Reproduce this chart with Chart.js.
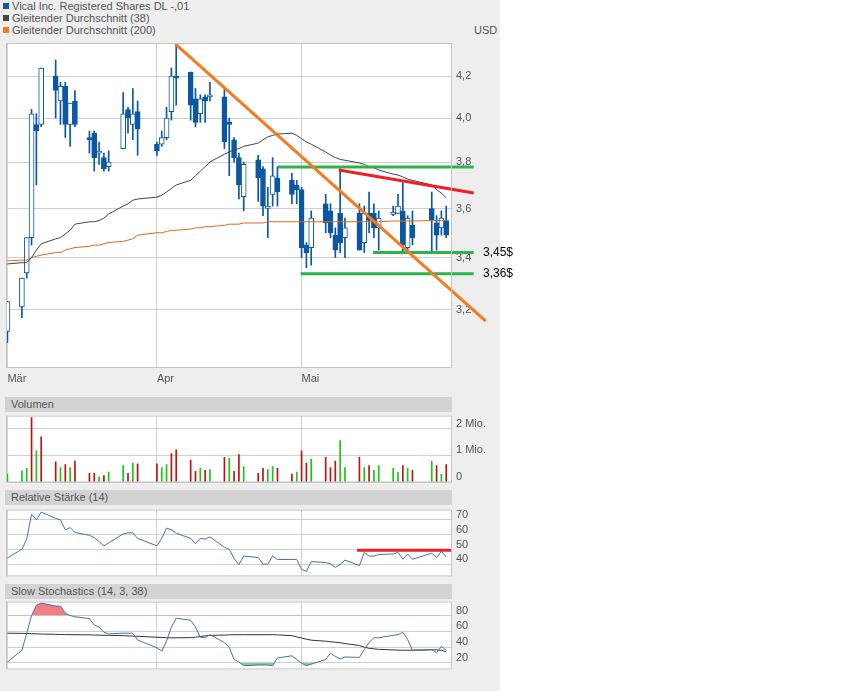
<!DOCTYPE html>
<html><head><meta charset="utf-8">
<script src="https://cdn.jsdelivr.net/npm/chart.js@4"></script>
<style>
body{margin:0;background:#fff;font-family:"Liberation Sans",Arial,sans-serif;}
#wrap{position:absolute;left:0;top:0;width:500px;height:691px;background:#eeeeee;}
canvas{position:absolute;left:0;}
.lbl{position:absolute;font-size:11px;color:#555;white-space:nowrap;}
.hdr{position:absolute;left:5px;width:447px;height:15px;background:#d3d3d3;font-size:11px;color:#555;line-height:15px;text-indent:6px;z-index:2;}
.sq{display:inline-block;width:6px;height:6px;margin:0 3px 1px 3px;}
</style></head><body>
<div id="wrap">
  <div class="lbl" style="left:0;top:0"><span class="sq" style="background:#0b57a4"></span>Vical Inc. Registered Shares DL -,01</div>
  <div class="lbl" style="left:0;top:12px"><span class="sq" style="background:#444"></span>Gleitender Durchschnitt (38)</div>
  <div class="lbl" style="left:0;top:24px"><span class="sq" style="background:#f07a1e"></span>Gleitender Durchschnitt (200)</div>
  <div class="lbl" style="left:474px;top:24px">USD</div>
  <canvas id="main" width="500" height="392" style="top:0;width:500px;height:392px"></canvas>
  <div class="hdr" style="top:397px">Volumen</div>
  <canvas id="vol" width="500" height="88" style="top:405px;width:500px;height:88px"></canvas>
  <div class="hdr" style="top:490px">Relative Stärke (14)</div>
  <canvas id="rsi" width="500" height="88" style="top:499px;width:500px;height:88px"></canvas>
  <div class="hdr" style="top:584px">Slow Stochastics (14, 3, 38)</div>
  <canvas id="sto" width="500" height="89" style="top:591px;width:500px;height:89px"></canvas>
</div>
<div class="lbl" style="left:483px;top:245px;font-size:12px;color:#000;z-index:3">3,45$</div>
<div class="lbl" style="left:483px;top:266px;font-size:12px;color:#000;z-index:3">3,36$</div>
<script>
// calendar day index counted from 1 March
const days = [0,3,4,5,6,7,10,11,12,13,14,17,18,19,20,21,24,25,26,27,
  31,32,33,34,35,38,39,40,41,42,45,46,47,48,49,52,53,54,55,56,59,60,
  61,62,63,66,67,68,69,70,73,74,75,76,77,80,81,82,83,84,88,89,90,91];
const open  = [3.12,3.21,3.34,3.48,3.97,3.97,4.20,4.08,4.15,3.97,4.08,3.91,3.93,3.84,3.82,3.78,3.86,4.04,3.97,4.03,
  3.88,3.88,3.91,4.03,4.20,4.22,4.09,4.02,4.10,4.10,4.10,3.98,3.90,3.82,3.65,3.81,3.77,3.60,3.66,3.73,3.72,3.70,
  3.68,3.45,3.44,3.62,3.59,3.49,3.58,3.48,3.58,3.46,3.58,3.58,3.52,3.575,3.58,3.59,3.44,3.53,3.60,3.54,3.52,3.55];
const close = [3.23,3.32,3.48,4.02,3.94,4.24,4.13,4.15,3.97,4.07,3.97,3.90,3.82,3.845,3.77,3.80,4.02,4.00,4.02,3.95,
  3.85,3.91,4.00,4.20,4.19,4.06,3.98,4.09,4.08,4.11,3.89,3.97,3.82,3.70,3.79,3.73,3.61,3.61,3.74,3.67,3.66,3.68,
  3.44,3.42,3.56,3.54,3.50,3.43,3.46,3.52,3.43,3.58,3.55,3.52,3.56,3.585,3.61,3.45,3.56,3.48,3.55,3.49,3.56,3.49];
const high  = [3.23,3.32,3.48,4.04,4.02,4.24,4.28,4.17,4.17,4.07,4.13,3.94,3.94,3.89,3.84,3.85,4.12,4.05,4.14,4.08,
  3.89,3.94,4.05,4.24,4.36,4.22,4.14,4.11,4.11,4.17,4.14,4.00,3.91,3.84,3.80,3.83,3.78,3.69,3.82,3.78,3.75,3.72,
  3.69,3.46,3.59,3.66,3.62,3.52,3.77,3.56,3.62,3.61,3.67,3.62,3.59,3.61,3.66,3.71,3.57,3.59,3.67,3.57,3.59,3.61];
const low   = [3.08,3.17,3.32,3.45,3.70,3.96,4.00,3.97,3.91,3.87,3.96,3.84,3.76,3.79,3.76,3.76,3.86,3.93,3.90,3.83,
  3.83,3.87,3.90,3.99,4.06,3.99,3.96,3.98,3.98,4.08,3.86,3.74,3.80,3.64,3.59,3.63,3.57,3.48,3.61,3.61,3.62,3.62,
  3.40,3.36,3.37,3.50,3.48,3.40,3.42,3.40,3.43,3.42,3.50,3.48,3.43,3.57,3.58,3.42,3.42,3.45,3.42,3.43,3.49,3.48];
const ma38  = [3.375,3.38,3.38,3.40,3.43,3.455,3.475,3.48,3.495,3.51,3.535,3.545,3.545,3.55,3.56,3.577,3.61,3.62,3.635,3.64,
  3.648,3.656,3.67,3.685,3.70,3.72,3.74,3.76,3.78,3.80,3.835,3.845,3.855,3.86,3.87,3.885,3.90,3.913,3.92,3.926,3.93,3.92,
  3.905,3.89,3.88,3.845,3.83,3.82,3.812,3.808,3.796,3.79,3.78,3.775,3.765,3.747,3.743,3.735,3.725,3.72,3.70,3.68,3.665,3.645];
const ma200 = [3.387,3.39,3.39,3.40,3.405,3.41,3.42,3.42,3.43,3.435,3.44,3.445,3.45,3.45,3.455,3.46,3.465,3.47,3.475,3.49,
  3.50,3.50,3.505,3.51,3.51,3.515,3.52,3.52,3.525,3.525,3.53,3.535,3.535,3.535,3.54,3.54,3.54,3.545,3.545,3.545,3.545,3.545,
  3.545,3.545,3.545,3.545,3.545,3.545,3.545,3.545,3.545,3.545,3.545,3.545,3.545,3.548,3.548,3.548,3.548,3.548,3.55,3.55,3.55,3.55];
const volume = [0.31,0.43,0.52,2.41,1.17,1.69, 0.76,0.55,0.66,0.55,0.79, 0.34,0.34,0.21,0.25,0.38, 0.62,0.34,0.72,0.69,
  0.69,0.55,0.66,1.07,1.21, 0.83,0.41,0.52,0.45,0.48, 0.93,0.90,0.41,1.03,0.59, 0.34,0.52,0.48,0.59,0.52, 0.31,0.38,
  1.17,0.72,0.86, 0.93,0.55,0.79,1.55,0.55, 0.93,0.55,0.62,0.45,0.62, 0.52,0.38,0.62,0.52,0.45, 0.79,0.62,0.31,0.66];
const volDir = 'gggrgr rgrgr rrgrg grgr rggrr rrgrg rgrrg rrggr rgrrg rrrgg rgrgg ggrgr grgr'.replace(/ /g,'').split('');
const rsi = [44.4,50.2,57,73.75,70,75.2, 71,70,63.3,64.8,61.5, 59.6,58,55.4,52.5,54.5, 60.5,61.25,61.25,57.5,
  52.5,57.5,64.4,63.3,61, 57.5,54,57.5,57,58.5, 51.5,50,44,39.8,45.6, 44.6,40.2,40.2,45.6,43.3, 43.3,43.3,
  36.7,35.2,41.9, 41.25,40.4,38,40,42.9, 39.2,48,45.6,45.6,46.7, 47,48.1,43.5,47,43.5, 47.5,44.6,48.75,45];
const stochK = [21.2,36,57.6,80,93,95.7, 92,91.8,83,80,78.4, 76,68,65.5,58.8,56.9, 57.6,57.6,57.6,49,
  39.2,35,47.8,65.5,76.5, 74,65.5,52.5,51.8,55.7, 45.9,40,24.3,21.2,16.5, 17.3,17.3,17.3,16.5,26.3, 29,24.3,
  19.6,16.5,18.4, 24.3,32.2,28.2,25.1,27.5, 27,36.9,45.9,51.8,51.8, 54.9,55.7,58.8,49.8,36, 36.9,32.9,40.8,36];
const stochD = [57.6,57.4,57.2,57,56.8,56.5, 56.2,56,55.9,55.8,55.7, 55.5,55.3,55.1,55,54.9, 54.5,54.2,53.9,53.7,
  52.5,52.2,51.9,51.8,51.8, 52,52.5,53.5,54.2,54.8, 55.3,55.5,55.7,55.7,55.7, 55.7,55.7,55.7,55.7,55.5, 54.5,53,
  51.5,50,48.8, 47.5,46.8,46.2,45.5,44.5, 42,40,38.5,37.8,37.2, 36.5,36.2,36,36,36, 36.6,36.5,36,34];
// drawn trend / support lines: [day, price] pairs
const trendOrange = [[34.8,4.36],[99.2,3.158]];
const trendRed = [[68.7,3.765],[96.7,3.666]];
const supp380 = [[56.1,3.778],[96.7,3.778]];
const supp345 = [[75.8,3.42],[96.7,3.42]];
const supp336 = [[60.8,3.337],[96.7,3.337]];
const priceTicks = [3.2,3.4,3.6,3.8,4.0,4.2];
const monthTicks = [0,31,61];
const monthNames = ['Mär','Apr','Mai'];

const BLUE = '#0b57a4', GRID = '#cfcfcf', TXT = '#555';
const FONT = {family:'"Liberation Sans", Arial, sans-serif', size:11};
const XMIN = -0.3, XMAX = 92.2;

const frame = {id:'frame',
  beforeDraw(c){const a=c.chartArea,x=c.ctx;x.save();x.fillStyle='#fff';x.fillRect(a.left,a.top,a.right-a.left,a.bottom-a.top);x.restore();},
  afterDraw(c){const a=c.chartArea,x=c.ctx;x.save();x.strokeStyle='#c4c4c4';x.lineWidth=1;x.strokeRect(a.left+0.5,a.top+0.5,a.right-a.left-1,a.bottom-a.top-1);x.restore();}
};
const pts = arr => arr.map((v,i)=>({x:days[i],y:v}));
const seg = arr => arr.map(p=>({x:p[0],y:p[1]}));
function xScale(labels){
  return {type:'linear',min:XMIN,max:XMAX,offset:false,
    afterBuildTicks:s=>{s.ticks=monthTicks.map(v=>({value:v}));},
    afterFit:s=>{s.height=labels?24:0;},
    grid:{color:GRID,drawTicks:false,offset:false},border:{display:false},
    ticks:{display:labels,align:'start',padding:4,color:TXT,font:FONT,callback:v=>monthNames[monthTicks.indexOf(v)]}};
}
function yScale(extra){
  return Object.assign({position:'right',afterFit:s=>{s.width=48;},
    grid:{color:GRID,drawTicks:false},border:{display:false},
    ticks:{color:TXT,font:FONT,padding:4,labelOffset:-5}},extra);
}
const common = {responsive:false,animation:false,
  plugins:{legend:{display:false},tooltip:{enabled:false}}};

// ---- main price chart ----
const up = close.map((c,i)=>c>=open[i]);
new Chart(document.getElementById('main'),{
  type:'bar',
  data:{datasets:[
    {type:'line',data:seg(trendOrange),borderColor:'#f47b20',borderWidth:3,pointRadius:0,clip:false,order:0},
    {type:'line',data:seg(trendRed),borderColor:'#ee2026',borderWidth:3,pointRadius:0,clip:false,order:0},
    {type:'line',data:seg(supp380),borderColor:'#2cb34a',borderWidth:3,pointRadius:0,clip:false,order:0},
    {type:'line',data:seg(supp345),borderColor:'#2cb34a',borderWidth:3,pointRadius:0,clip:false,order:0},
    {type:'line',data:seg(supp336),borderColor:'#2cb34a',borderWidth:3,pointRadius:0,clip:false,order:0},
    {type:'line',data:pts(ma38),borderColor:'#444',borderWidth:1,pointRadius:0,order:1},
    {type:'line',data:pts(ma200),borderColor:'#e06a1a',borderWidth:1,pointRadius:0,order:1},
    {data:days.map((d,i)=>({x:d,y:[Math.min(open[i],close[i]),Math.max(open[i],close[i])]})),
      backgroundColor:up.map(u=>u?'#fff':BLUE),borderColor:BLUE,borderWidth:1,borderSkipped:false,
      barThickness:5,grouped:false,minBarLength:2,order:2},
    {data:days.map((d,i)=>({x:d,y:[low[i],high[i]]})),backgroundColor:BLUE,barThickness:1,grouped:false,order:3}
  ]},
  options:Object.assign({},common,{
    layout:{padding:{top:43,left:6,right:0,bottom:0}},
    scales:{
      x:xScale(true),
      y:yScale({type:'logarithmic',min:2.99,max:4.365,
        afterBuildTicks:s=>{s.ticks=priceTicks.map(v=>({value:v}));},
        ticks:{color:TXT,font:FONT,padding:4,callback:v=>v.toFixed(1).replace('.',',')}})
    }}),
  plugins:[frame]
});

// ---- volume ----
new Chart(document.getElementById('vol'),{
  type:'bar',
  data:{datasets:[{data:pts(volume),backgroundColor:volDir.map(d=>d==='g'?'#14c814':'#c01010'),barThickness:1}]},
  options:Object.assign({},common,{
    layout:{padding:{top:8,left:6,right:0,bottom:8}},
    scales:{x:xScale(false),
      y:yScale({min:0,max:2.48,afterBuildTicks:s=>{s.ticks=[0,1,2].map(v=>({value:v}));},
        ticks:{color:TXT,font:FONT,padding:4,labelOffset:-5,callback:v=>v===0?'0':v+' Mio.'}})}}),
  plugins:[frame]
});

// ---- RSI ----
new Chart(document.getElementById('rsi'),{
  type:'line',
  data:{datasets:[
    {data:[{x:72.5,y:49.5},{x:92.2,y:49.5}],borderColor:'#ee2026',borderWidth:3,pointRadius:0,clip:false},
    {data:pts(rsi),borderColor:'#4a6fb5',borderWidth:1,pointRadius:0}
  ]},
  options:Object.assign({},common,{
    layout:{padding:{top:8,left:6,right:0,bottom:8}},
    scales:{x:xScale(false),
      y:yScale({min:31.9,max:76.9,afterBuildTicks:s=>{s.ticks=[40,50,60,70].map(v=>({value:v}));}})}}),
  plugins:[frame]
});

// ---- Slow Stochastics ----
new Chart(document.getElementById('sto'),{
  type:'line',
  data:{datasets:[
    {data:pts(stochK),borderColor:'#4a6fb5',borderWidth:1,pointRadius:0,
      fill:{target:{value:80},above:'#f08080',below:'rgba(0,0,0,0)'}},
    {data:pts(stochK),borderColor:'rgba(0,0,0,0)',borderWidth:0,pointRadius:0,
      fill:{target:{value:20},above:'rgba(0,0,0,0)',below:'#7fd67f'}},
    {data:pts(stochD),borderColor:'#333',borderWidth:1,pointRadius:0}
  ]},
  options:Object.assign({},common,{
    layout:{padding:{top:8,left:6,right:0,bottom:8}},
    scales:{x:xScale(false),
      y:yScale({min:11.8,max:97.6,afterBuildTicks:s=>{s.ticks=[20,40,60,80].map(v=>({value:v}));}})}}),
  plugins:[frame]
});
</script>
</body></html>
